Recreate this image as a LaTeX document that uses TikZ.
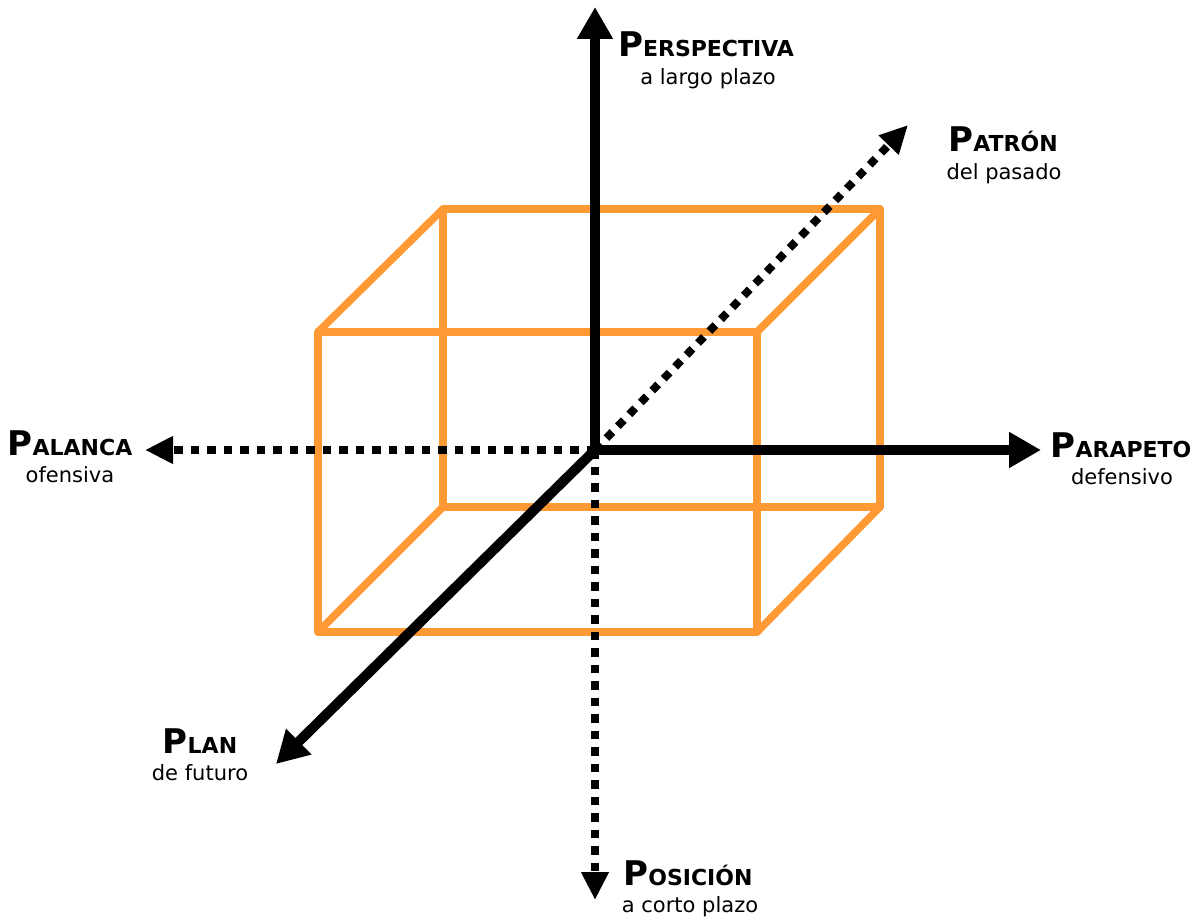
\documentclass[tikz,border=0pt]{standalone}
\usepackage{fontspec}
\setmainfont{DejaVu Sans}
\usetikzlibrary{arrows.meta}
\definecolor{cubeorange}{RGB}{255,153,51}
\newcommand{\ttl}[2]{{\bfseries\fontsize{34}{34}\selectfont #1\fontsize{22}{22}\selectfont #2}}
\newcommand{\sbt}[1]{{\fontsize{21}{21}\selectfont #1}}
\begin{document}
\begin{tikzpicture}[x=1pt,y=-1pt,
  cubeedge/.style={draw=cubeorange,line width=7.5pt,line join=round,line cap=round},
  solidaxis/.style={draw=black,line width=10pt,-{Triangle[width=34pt,length=32pt]}},
  dottedaxis/.style={draw=black,line width=8pt,dash pattern=on 8.5pt off 8pt,-{Triangle[width=26pt,length=28pt]}},
  lbl/.style={inner sep=0pt,anchor=base}]
\useasboundingbox (0,0) rectangle (1194,917);
% cube
\coordinate (f1) at (318,332);
\coordinate (f2) at (757,332);
\coordinate (f3) at (757,632);
\coordinate (f4) at (318,632);
\coordinate (b1) at (443,209);
\coordinate (b2) at (880,209);
\coordinate (b3) at (880,507);
\coordinate (b4) at (443,507);
\draw[cubeedge] (f1) -- (f2) -- (f3) -- (f4) -- cycle;
\draw[cubeedge] (b1) -- (b2) -- (b3) -- (b4) -- cycle;
\draw[cubeedge] (f1) -- (b1);
\draw[cubeedge] (f2) -- (b2);
\draw[cubeedge] (f3) -- (b3);
\draw[cubeedge] (f4) -- (b4);
% axes
\coordinate (o) at (595,450);
\coordinate (eUp) at (595,7);
\coordinate (eRight) at (1041,450);
\coordinate (eLeft) at (145,450);
\coordinate (eDown) at (595,900);
\coordinate (eDiagUp) at (908,125);
\coordinate (eDiagDown) at (276,764);
\draw[dottedaxis] (o) -- (eLeft);
\draw[dottedaxis] (o) -- (eDown);
\draw[dottedaxis] (o) -- (eDiagUp);
\draw[solidaxis] (o) -- (eUp);
\draw[solidaxis] (o) -- (eRight);
\draw[solidaxis] (o) -- (eDiagDown);
% labels
\node[lbl] (tPersp) at (706,57) {\ttl{P}{ERSPECTIVA}};
\node[lbl] (sPersp) at (708,85) {\sbt{a largo plazo}};
\node[lbl] (tPatron) at (1003,152) {\ttl{P}{ATRÓN}};
\node[lbl] (sPatron) at (1004,180) {\sbt{del pasado}};
\node[lbl] (tPalanca) at (70,455) {\ttl{P}{ALANCA}};
\node[lbl] (sPalanca) at (70,482) {\sbt{ofensiva}};
\node[lbl] (tParapeto) at (1121,457) {\ttl{P}{ARAPETO}};
\node[lbl] (sParapeto) at (1122,484) {\sbt{defensivo}};
\node[lbl] (tPlan) at (200,753) {\ttl{P}{LAN}};
\node[lbl] (sPlan) at (200,780) {\sbt{de futuro}};
\node[lbl] (tPosicion) at (688,885) {\ttl{P}{OSICIÓN}};
\node[lbl] (sPosicion) at (690,912) {\sbt{a corto plazo}};
\end{tikzpicture}
\end{document}
